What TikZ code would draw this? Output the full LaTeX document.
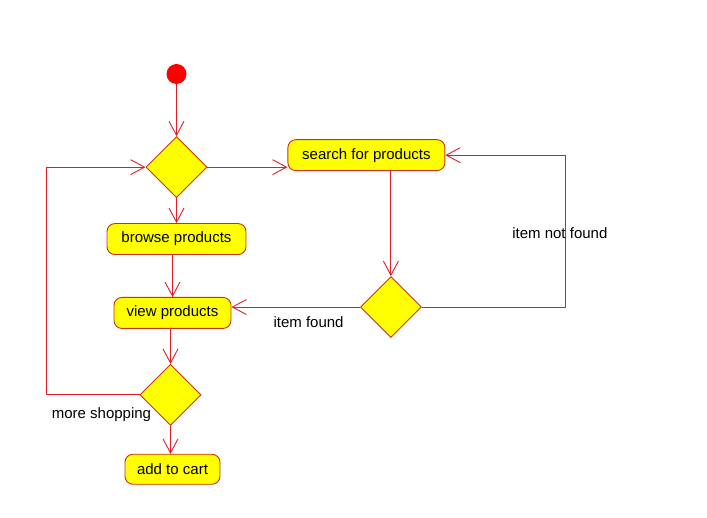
\documentclass[tikz,border=0pt]{standalone}
\usepackage{fontspec}
\setmainfont{Liberation Sans}
\usepackage{tikz}
\usetikzlibrary{positioning,shapes.geometric,arrows.meta}

\definecolor{boxline}{RGB}{200,50,20}
\definecolor{flowred}{RGB}{225,30,40}
\definecolor{boxfill}{RGB}{255,255,0}

\tikzset{
  activity/.style={draw=boxline, fill=boxfill, line width=0.9pt, rounded corners=8pt,
    minimum height=31pt, inner sep=0pt, font=\fontsize{15}{17}\selectfont},
  choice/.style={diamond, draw=boxline, fill=boxfill, line width=0.9pt,
    minimum width=61pt, minimum height=61pt, inner sep=0pt},
  startdot/.style={circle, fill=red, minimum size=20pt, inner sep=0pt},
  flow/.style={draw=flowred, line width=0.9pt, -{Straight Barb[length=14pt,width=15pt]}},
  guard/.style={font=\fontsize{15}{17}\selectfont, text=black, inner sep=2pt},
}

\begin{document}
\begin{tikzpicture}[x=1pt, y=-1pt]
            \useasboundingbox (0,0) rectangle (707,518);
                \node[startdot] (start) at (176.5,74) {};
                \node[choice, below=52pt of start] (d1) {};
                \node[activity, minimum width=139pt, below=25pt of d1] (browse) {browse products};
                \node[activity, minimum width=117pt, below=42pt of browse, xshift=-4pt] (view) {view products};
                \node[choice, below=35pt of view, xshift=-2pt] (d3) {};
                \node[activity, minimum width=95pt, minimum height=30pt, below=28pt of d3, xshift=2pt] (cart) {add to cart};
                \node[activity, minimum width=157pt, right=80pt of d1, yshift=12pt] (search) {search for products};
                \node[choice, below=105pt of search, xshift=24.5pt] (d2) {};

                \draw[flow] (start) -- (d1);
                \draw[flow] (d1) -- (browse);
                \draw[flow] (d1.east) -- (search.west |- d1.east);
                \draw[flow] (view.north |- browse.south) -- (view.north);
                \draw[flow] (d3.north |- view.south) -- (d3.north);
                \draw[flow] (d3.south) -- (d3.south |- cart.north);
                \draw[flow] (d2.north |- search.south) -- (d2.north);
                \draw[flow] (d2.west) -- node[guard, below, pos=0.4, yshift=-7pt] {item found} (view.east |- d2.west);
                \draw[flow] (d2.east) -- ++(144,0) |- node[guard, pos=0.25, xshift=-6pt, yshift=-2pt] {item not found} (search.east);
                \draw[flow] (d3.west) -- node[guard, at start, anchor=north east, xshift=12pt, yshift=-12pt, inner sep=0pt] {more shopping} ++(-93,0) |- (d1.west);
\end{tikzpicture}
\end{document}
